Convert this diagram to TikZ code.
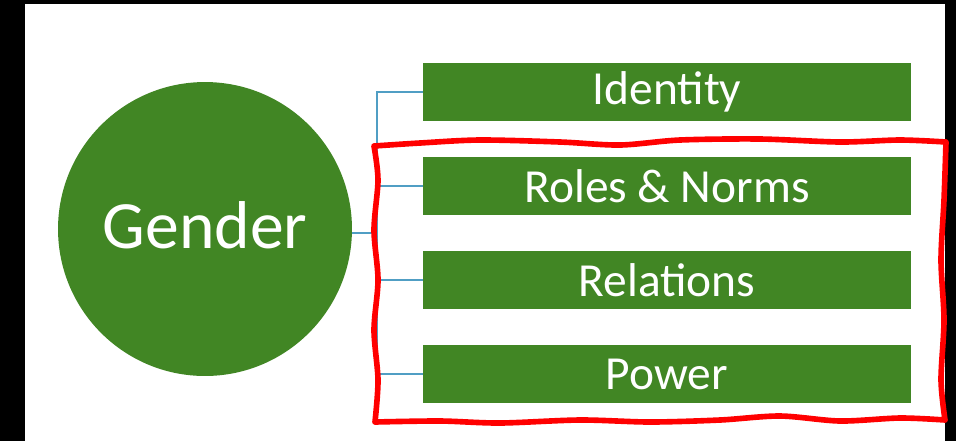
\documentclass[tikz,border=0pt]{standalone}
\usepackage{fontspec}
\setmainfont{Carlito}
\definecolor{boxgreen}{RGB}{65,134,36}
\definecolor{linkblue}{RGB}{80,158,196}
\begin{document}
\begin{tikzpicture}[x=0.02cm,y=-0.02cm,
    tema/.style={circle,fill=boxgreen,text=white,inner sep=0pt,minimum size=5.88cm,font=\fontsize{38.5}{46}\selectfont},
    voce/.style={rectangle,fill=boxgreen,text=white,minimum width=9.76cm,minimum height=1.16cm,inner sep=0pt,font=\fontsize{27}{32}\selectfont},
    ramo/.style={draw=linkblue,line width=0.8pt}]

            %cornice nera e sfondo bianco
            \useasboundingbox (0,0) rectangle (956,441);
            \fill[black] (0,0) rectangle (956,441);
            \fill[white] (25,4) rectangle (945,441);

            %nodo centrale 
            \node[tema] (gender) at (205,229) {\raisebox{4.5pt}{Gender}};

            %le quattro voci a destra
            \node[voce] (identity) at (667,92) {Identity};
            \node[voce] (roles) at (667,186) {Roles \& Norms};
            \node[voce] (relations) at (667,280) {Relations};
            \node[voce] (power) at (667,374) {Power};

            %punto di diramazione
            \coordinate (trunk) at (377,233);

            %Archi 
            \draw[ramo] (gender.east |- trunk) -- (trunk);
            \draw[ramo] (trunk) |- (identity.west);
            \draw[ramo] (trunk) |- (roles.west);
            \draw[ramo] (trunk) |- (relations.west);
            \draw[ramo] (trunk) |- (power.west);

            %riquadro rosso a mano libera
            \draw[red,line width=3.2pt,line join=round,line cap=round]
                plot[smooth] coordinates {(374,146) (420,143) (480,140) (560,142) (620,145) (680,140) (760,139) (840,142) (900,140) (946,142)}
                plot[smooth] coordinates {(946,142) (944,200) (941,260) (944,320) (941,380) (945,420)}
                plot[smooth] coordinates {(945,420) (900,418) (840,421) (780,416) (720,420) (650,422) (580,420) (500,423) (440,421) (375,422)}
                plot[smooth] coordinates {(375,422) (378,380) (374,330) (378,280) (374,230) (378,180) (374,146)};

        \end{tikzpicture}
\end{document}
